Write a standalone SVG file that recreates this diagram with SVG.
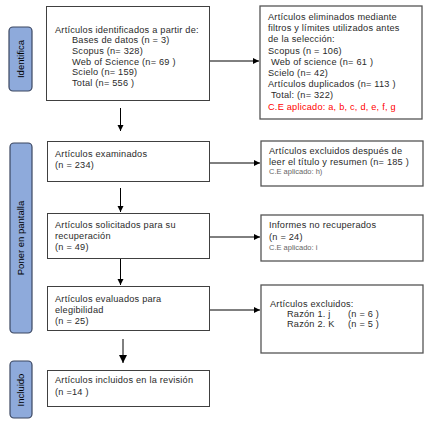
<svg xmlns="http://www.w3.org/2000/svg" width="435" height="424" viewBox="0 0 435 424">
<defs>
<marker id="ah" markerWidth="8" markerHeight="8" refX="6" refY="3" orient="auto" markerUnits="userSpaceOnUse">
<path d="M0,0 L6,3 L0,6 z" fill="#000"/>
</marker>
<marker id="ahb" markerWidth="10" markerHeight="10" refX="8" refY="4" orient="auto" markerUnits="userSpaceOnUse">
<path d="M0,0 L8,4 L0,8 z" fill="#000"/>
</marker>
<style>
.box{fill:#fff;stroke:#404040;stroke-width:1}
.rbox{fill:#fff;stroke:#555;stroke-width:1.3}
.pill{fill:#8eaadb;stroke:#3a4660;stroke-width:1.2}
.t{font-family:"Liberation Sans",Arial,sans-serif;font-size:9.2px;fill:#2a2a2a;letter-spacing:0.22px}
.red{fill:#ff0000}
.sm{font-family:"Liberation Sans",Arial,sans-serif;font-size:7.5px;fill:#666}
.pt{font-family:"Liberation Sans",Arial,sans-serif;font-size:9.5px;fill:#000;text-anchor:middle}
.c{stroke:#000;stroke-width:1;fill:none}
</style>
</defs>
<rect width="435" height="424" fill="#fff"/>

<g id="pill-identifica">
<rect class="pill" x="9" y="27" width="23" height="64" rx="4"/>
<text class="pt" transform="translate(24,59) rotate(-90)">Identifica</text>
</g>
<g id="pill-pantalla">
<rect class="pill" x="10" y="143" width="22" height="190" rx="4"/>
<text class="pt" transform="translate(24,238) rotate(-90)">Poner en pantalla</text>
</g>
<g id="pill-incluido">
<rect class="pill" x="10" y="361" width="22" height="57" rx="4"/>
<text class="pt" transform="translate(24,390) rotate(-90)">Incluido</text>
</g>

<g id="box1">
<rect class="box" x="46.5" y="6.5" width="163" height="94"/>
<text class="t" x="55" y="32.5">Artículos identificados a partir de:</text>
<text class="t" x="72" y="43">Bases de datos (n = 3)</text>
<text class="t" x="72" y="54">Scopus (n= 328)</text>
<text class="t" x="72" y="64.5">Web of Science (n= 69 )</text>
<text class="t" x="72" y="75">Scielo (n= 159)</text>
<text class="t" x="72" y="85.5">Total (n= 556 )</text>
</g>

<g id="rbox1">
<rect class="rbox" x="260" y="6" width="162" height="113"/>
<text class="t" x="268" y="19.5">Artículos eliminados mediante</text>
<text class="t" x="268" y="31">filtros y límites utilizados antes</text>
<text class="t" x="268" y="42">de la selección:</text>
<text class="t" x="268" y="54">Scopus (n = 106)</text>
<text class="t" x="271" y="65">Web of science (n= 61 )</text>
<text class="t" x="268" y="75.5">Scielo (n= 42)</text>
<text class="t" x="268" y="86.5">Artículos duplicados (n= 113 )</text>
<text class="t" x="271" y="98">Total: (n= 322)</text>
<text class="t red" x="268" y="110">C.E aplicado: a, b, c, d, e, f, g</text>
</g>

<g id="box2">
<rect class="box" x="47.5" y="141.5" width="162" height="40"/>
<text class="t" x="55" y="157">Artículos examinados</text>
<text class="t" x="55" y="168">(n = 234)</text>
</g>

<g id="rbox2">
<rect class="rbox" x="261" y="141" width="162" height="45"/>
<text class="t" x="269" y="154">Artículos excluidos después de</text>
<text class="t" x="269" y="164.5">leer el título y resumen (n= 185 )</text>
<text class="sm" x="269" y="173.5">C.E aplicado: h)</text>
</g>

<g id="box3">
<rect class="box" x="47.5" y="213.5" width="162" height="45"/>
<text class="t" x="55" y="228">Artículos solicitados para su</text>
<text class="t" x="55" y="238.5">recuperación</text>
<text class="t" x="55" y="249.5">(n = 49)</text>
</g>

<g id="rbox3">
<rect class="rbox" x="261" y="215" width="162" height="46"/>
<text class="t" x="269" y="228">Informes no recuperados</text>
<text class="t" x="269" y="239.5">(n = 24)</text>
<text class="sm" x="269" y="249.5">C.E aplicado: i</text>
</g>

<g id="box4">
<rect class="box" x="47.5" y="286.5" width="162" height="44"/>
<text class="t" x="55" y="301.5">Artículos evaluados para</text>
<text class="t" x="55" y="312.5">elegibilidad</text>
<text class="t" x="55" y="323.5">(n = 25)</text>
</g>

<g id="rbox4">
<rect class="rbox" x="261" y="285" width="162" height="68"/>
<text class="t" x="270" y="306.5">Artículos excluidos:</text>
<text class="t" x="287" y="316.5">Razón 1. j</text>
<text class="t" x="348" y="316.5">(n = 6 )</text>
<text class="t" x="287" y="326.5">Razón 2. K</text>
<text class="t" x="348" y="326.5">(n = 5 )</text>
</g>

<g id="box5">
<rect class="box" x="47.5" y="370.5" width="162" height="36"/>
<text class="t" x="55" y="383">Artículos incluidos en la revisión</text>
<text class="t" x="55" y="394.5">(n =14 )</text>
</g>

<g id="connectors">
<line class="c" x1="120.5" y1="108" x2="120.5" y2="131" marker-end="url(#ah)"/>
<line class="c" x1="120.5" y1="188" x2="120.5" y2="212" marker-end="url(#ah)"/>
<line class="c" x1="120.5" y1="259" x2="120.5" y2="285" marker-end="url(#ah)"/>
<line class="c" x1="123" y1="339" x2="123" y2="363" stroke-width="1.3" marker-end="url(#ahb)"/>
<line class="c" x1="210" y1="61" x2="259" y2="61" marker-end="url(#ah)"/>
<line class="c" x1="210" y1="163" x2="260" y2="163" marker-end="url(#ah)"/>
<line class="c" x1="210" y1="237" x2="260" y2="237" marker-end="url(#ah)"/>
<line class="c" x1="210" y1="310" x2="260" y2="310" marker-end="url(#ah)"/>
</g>
</svg>
